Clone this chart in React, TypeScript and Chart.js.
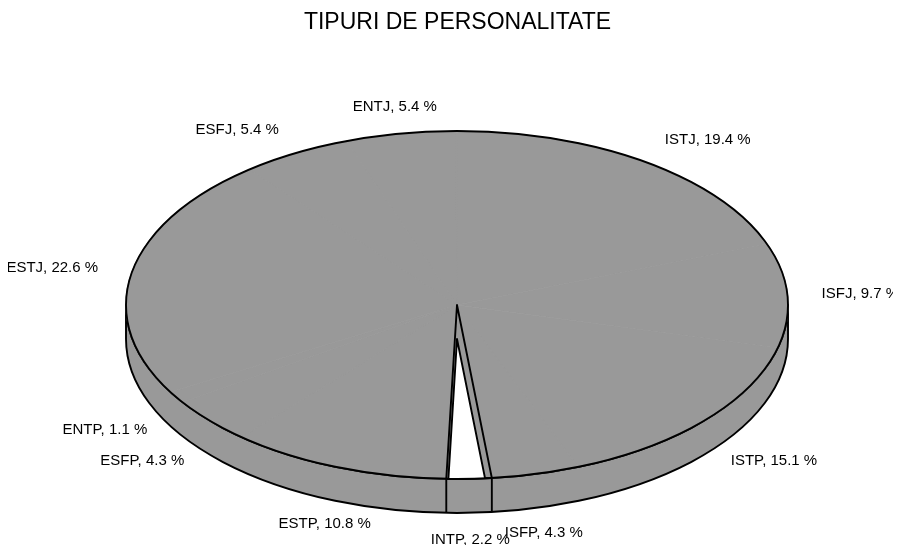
import React, { useEffect, useRef } from 'react';
import { Chart, registerables } from 'chart.js';

Chart.register(...registerables);

const titleText = 'TIPURI DE PERSONALITATE';
const typeLabels = ['ENTJ', 'ISTJ', 'ISFJ', 'ISTP', 'ISFP', 'INTP', 'ESTP', 'ESFP', 'ENTP', 'ESTJ', 'ESFJ'];
const typePercents = [5.4, 19.4, 9.7, 15.1, 4.3, 2.2, 10.8, 4.3, 1.1, 22.6, 5.4];
const explodedType = 'INTP';
const startRotation = -19.5;

const GREY = '#999999';
const FONT = '"Liberation Sans", Arial, sans-serif';
const CX = 449;
const CY = 297;
const RX = 331;
const RY = 174;
const DEPTH = 34;
const LABEL_RX = 1.103;
const LABEL_RY = 1.155;

function wedge(ctx: CanvasRenderingContext2D, s: number, e: number, dy: number) {
  ctx.beginPath();
  ctx.moveTo(CX, CY + dy);
  ctx.ellipse(CX, CY + dy, RX, RY, 0, s, e, false);
  ctx.closePath();
}

const pie3d = {
  id: 'pie3d',
  beforeDatasetsDraw(chart: any) {
    const ctx: CanvasRenderingContext2D = chart.ctx;
    const arcs = chart.getDatasetMeta(0).data;
    chart.$pie3dSaved = false;
    if (!arcs.length) return;
    const p0 = arcs[0].getProps(['x', 'y', 'outerRadius'], true);
    // side wall (front half)
    ctx.save();
    ctx.beginPath();
    ctx.moveTo(CX + RX, CY);
    ctx.lineTo(CX + RX, CY + DEPTH);
    ctx.ellipse(CX, CY + DEPTH, RX, RY, 0, 0, Math.PI, false);
    ctx.lineTo(CX - RX, CY);
    ctx.ellipse(CX, CY, RX, RY, 0, Math.PI, 0, true);
    ctx.closePath();
    ctx.fillStyle = GREY;
    ctx.fill();
    ctx.lineWidth = 1.9;
    ctx.strokeStyle = '#000';
    ctx.lineJoin = 'round';
    ctx.stroke();
    const idx = typeLabels.indexOf(explodedType);
    if (idx >= 0) {
      const a = arcs[idx].getProps(['startAngle', 'endAngle'], true);
      for (const ang of [a.startAngle, a.endAngle]) {
        const s = Math.sin(ang);
        if (s > 0) {
          const px = CX + RX * Math.cos(ang);
          const py = CY + RY * s;
          ctx.beginPath();
          ctx.moveTo(px, py);
          ctx.lineTo(px, py + DEPTH);
          ctx.stroke();
        }
      }
    }
    ctx.restore();
    // squash the pie into an ellipse
    ctx.save();
    ctx.translate(CX, CY);
    ctx.scale(RX / p0.outerRadius, RY / p0.outerRadius);
    ctx.translate(-p0.x, -p0.y);
    chart.$pie3dSaved = true;
  },
  afterDatasetsDraw(chart: any) {
    const ctx: CanvasRenderingContext2D = chart.ctx;
    if (!chart.$pie3dSaved) return;
    ctx.restore();
    const arcs = chart.getDatasetMeta(0).data;
    ctx.save();
    ctx.lineWidth = 1.9;
    ctx.strokeStyle = '#000';
    ctx.lineJoin = 'round';
    // top outline
    ctx.beginPath();
    ctx.ellipse(CX, CY, RX, RY, 0, 0, Math.PI * 2);
    ctx.stroke();
    // exploded slice hole
    const idx = typeLabels.indexOf(explodedType);
    if (idx >= 0) {
      const a = arcs[idx].getProps(['startAngle', 'endAngle'], true);
      ctx.save();
      wedge(ctx, a.startAngle, a.endAngle, 0);
      ctx.clip();
      wedge(ctx, a.startAngle, a.endAngle, DEPTH);
      ctx.fillStyle = '#ffffff';
      ctx.fill();
      ctx.stroke();
      ctx.restore();
      wedge(ctx, a.startAngle, a.endAngle, 0);
      ctx.stroke();
    }
    // labels
    ctx.font = '15px ' + FONT;
    ctx.fillStyle = '#000';
    ctx.textBaseline = 'middle';
    arcs.forEach((arc: any, i: number) => {
      const p = arc.getProps(['startAngle', 'endAngle'], true);
      const mid = (p.startAngle + p.endAngle) / 2;
      const ux = Math.cos(mid);
      const uy = Math.sin(mid);
      const text = `${typeLabels[i]}, ${typePercents[i].toFixed(1)} %`;
      const x = CX + RX * LABEL_RX * ux;
      const y = CY + RY * LABEL_RY * uy + (uy > 0 ? DEPTH * uy : 0);
      ctx.textAlign = Math.abs(ux) < 0.4 ? 'center' : ux > 0 ? 'left' : 'right';
      ctx.fillText(text, x, y);
    });
    ctx.restore();
  },
};

export default function App() {
  const ref = useRef<HTMLCanvasElement | null>(null);
  useEffect(() => {
    if (!ref.current) return;
    const chart = new Chart(ref.current, {
      type: 'pie',
      data: {
        labels: typeLabels,
        datasets: [
          {
            data: typePercents,
            backgroundColor: GREY,
            borderColor: GREY,
            borderWidth: 1,
          },
        ],
      },
      options: {
        animation: false,
        responsive: true,
        maintainAspectRatio: false,
        rotation: startRotation,
        events: [],
        layout: { padding: { left: 6 } },
        plugins: {
          legend: { display: false },
          tooltip: { enabled: false },
          title: {
            display: true,
            text: titleText,
            color: '#000',
            font: { family: FONT, size: 23, weight: 'normal' },
            padding: { top: 1, bottom: 10 },
          },
        },
      },
      plugins: [pie3d],
    } as any);
    return () => chart.destroy();
  }, []);
  return (
    <div style={{ width: '893px', height: '537px', position: 'relative' }}>
      <canvas ref={ref} />
    </div>
  );
}
